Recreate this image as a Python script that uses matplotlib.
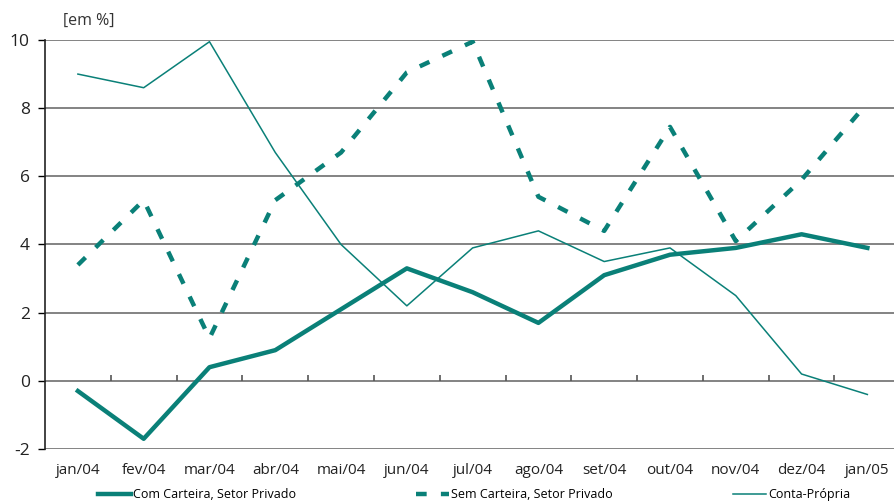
import numpy as np
import matplotlib.pyplot as plt

months = ['jan/04', 'fev/04', 'mar/04', 'abr/04', 'mai/04', 'jun/04', 'jul/04',
          'ago/04', 'set/04', 'out/04', 'nov/04', 'dez/04', 'jan/05']
com_carteira = [-0.3, -1.7, 0.4, 0.9, 2.1, 3.3, 2.6, 1.7, 3.1, 3.7, 3.9, 4.3, 3.9]
sem_carteira = [3.4, 5.3, 1.25, 5.3, 6.7, 9.05, 9.95, 5.4, 4.4, 7.45, 4.1, 5.9, 8.15]
conta_propria = [9.0, 8.6, 9.95, 6.7, 4.0, 2.2, 3.9, 4.4, 3.5, 3.9, 2.5, 0.2, -0.4]

teal = '#0a8078'
plt.rcParams['font.family'] = ['Open Sans', 'DejaVu Sans']

fig = plt.figure(figsize=(8.95, 5.04), dpi=100)
ax = fig.add_axes([45/895, 55/504, 850/895, 409/504])
x = np.arange(len(months))

# grid lines
for v in range(-2, 11, 2):
    ax.axhline(v, color='#7a7a7a', lw=1.3, zorder=1)
# small ticks on the zero line between categories
ax.vlines(x[:-1] + 0.5, 0, 0.18, color='#555555', lw=1.2, zorder=1)

l1, = ax.plot(x, com_carteira, color=teal, lw=3.2, label='Com Carteira, Setor Privado', zorder=3)
l2, = ax.plot(x, sem_carteira, color=teal, lw=3.2, dashes=(2.4, 3.2), label='Sem Carteira, Setor Privado', zorder=3)
l3, = ax.plot(x, conta_propria, color=teal, lw=1.1, label='Conta-Própria', zorder=3)

ax.set_xlim(-0.5, 12.42)
ax.set_ylim(-2, 10)
ax.set_yticks(range(-2, 11, 2))
ax.set_yticklabels([str(v) for v in range(-2, 11, 2)], fontsize=12.5, color='#222222')
ax.set_xticks(x)
ax.set_xticklabels(months, fontsize=11, color='#222222')
ax.tick_params(axis='x', length=0, pad=10)
ax.tick_params(axis='y', length=5, width=1, direction='out', pad=6)
for s in ['top', 'right', 'bottom']:
    ax.spines[s].set_visible(False)
ax.spines['left'].set_color('#222222')
ax.spines['left'].set_linewidth(1.2)

fig.text(63/895, 1 - 21/504, '[em %]', fontsize=11.5, color='#333333', va='center')

fig.legend(handles=[l1, l2, l3], loc='center', bbox_to_anchor=(0.11, 0.0, 0.84, 0.036),
           mode='expand', ncol=3, frameon=False, fontsize=9, handlelength=2.6,
           handletextpad=0.2, borderaxespad=0, borderpad=0)

fig.savefig('out.png', dpi=100)
